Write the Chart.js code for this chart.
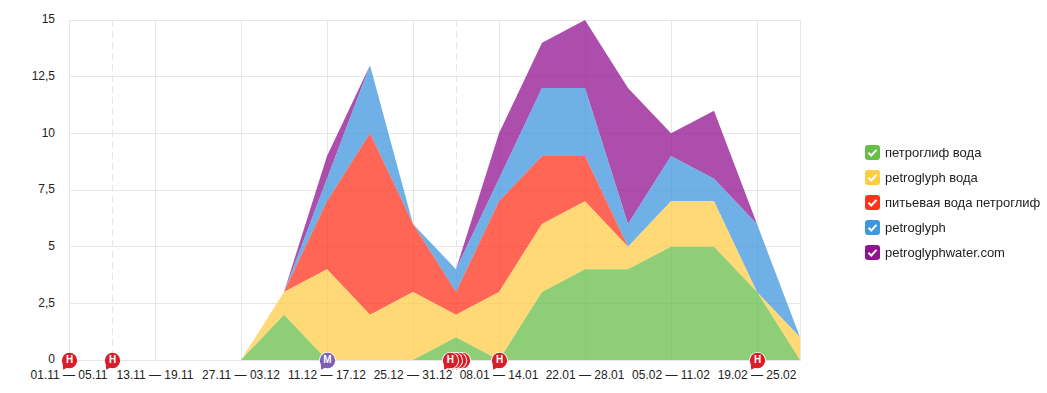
<!DOCTYPE html>
<html>
<head>
<meta charset="utf-8">
<script src="https://cdn.jsdelivr.net/npm/chart.js@4"></script>
<style>
  html, body { margin: 0; padding: 0; background: #fff; overflow: hidden; }
  #wrap { position: relative; width: 1047px; height: 393px; font-family: "Liberation Sans", Arial, sans-serif; }
  #legend { position: absolute; left: 865px; top: 140px; }
  .item { height: 25px; display: flex; align-items: center; font-size: 13px; color: #222; white-space: nowrap; }
  .box { width: 15px; height: 15px; border-radius: 3px; margin-right: 5px; display: block; }
</style>
</head>
<body>
<div id="wrap">
  <canvas id="chart" width="1047" height="393"></canvas>
  <div id="legend"></div>
</div>
<script>
// weeks on the x axis
const weeks = [
  "01.11 — 05.11", "06.11 — 12.11", "13.11 — 19.11", "20.11 — 26.11", "27.11 — 03.12", "04.12 — 10.12",
  "11.12 — 17.12", "18.12 — 24.12", "25.12 — 31.12", "01.01 — 07.01", "08.01 — 14.01", "15.01 — 21.01",
  "22.01 — 28.01", "29.01 — 04.02", "05.02 — 11.02", "12.02 — 18.02", "19.02 — 25.02", "26.02 — 28.02"
];

// series
const seriesNames = ["петроглиф вода", "petroglyph вода", "питьевая вода петроглиф", "petroglyph", "petroglyphwater.com"];
const petroglifVoda =   [0, 0, 0, 0, 0, 2, 0, 0, 0, 1, 0, 3, 4, 4, 5, 5, 3, 0];
const petroglyphVoda =  [0, 0, 0, 0, 0, 1, 4, 2, 3, 1, 3, 3, 3, 1, 2, 2, 0, 1];
const pitevayaVoda =    [0, 0, 0, 0, 0, 0, 3, 8, 3, 1, 4, 3, 2, 0, 0, 0, 0, 0];
const petroglyph =      [0, 0, 0, 0, 0, 0, 1, 3, 0, 1, 1, 3, 3, 1, 2, 1, 3, 0];
const petroglyphWater = [0, 0, 0, 0, 0, 0, 1, 0, 0, 0, 2, 2, 3, 6, 1, 3, 0, 0];
const seriesValues = [petroglifVoda, petroglyphVoda, pitevayaVoda, petroglyph, petroglyphWater];

// legend colours and area colours
const solidColors = ["#67be48", "#ffcc48", "#ff331c", "#3f97de", "#921392"];
const areaColors = solidColors.map(c => c + "bf");

// weeks whose grid line is dashed
const dashedWeeks = [1, 9];

// event bubbles, position is in week units
const eventWeeks =   [0, 1, 6, 9.14, 9.05, 8.95, 8.86, 10, 16];
const eventLetters = ["Н", "Н", "М", "Н", "Н", "Н", "Н", "Н", "Н"];

const gridColor = "#e6e6e6";
const textColor = "#222";
const fontFamily = '"Liberation Sans", Arial, sans-serif';

// draws the small speech bubbles on the zero line
const eventBubbles = {
  id: "eventBubbles",
  afterDraw(chart) {
    const ctx = chart.ctx;
    const x0 = chart.scales.y.getPixelForValue(0);
    eventWeeks.forEach((week, i) => {
      const x = chart.scales.x.getPixelForValue(week) + 0.5;
      const y = x0 + 0.5;
      const fill = eventLetters[i] === "М" ? "#7d5db5" : "#d71f2b";
      ctx.save();
      ctx.beginPath();
      ctx.arc(x, y, 8.6, 0, Math.PI * 2);
      ctx.fillStyle = "#fff";
      ctx.fill();
      ctx.fillStyle = fill;
      ctx.beginPath();
      ctx.arc(x, y, 7.7, 0, Math.PI * 2);
      ctx.fill();
      ctx.beginPath();
      ctx.moveTo(x - 6.8, y + 3);
      ctx.lineTo(x - 6.3, y + 9.3);
      ctx.lineTo(x - 2, y + 7);
      ctx.closePath();
      ctx.fill();
      ctx.fillStyle = "#fff";
      ctx.font = "bold 10px " + fontFamily;
      ctx.textAlign = "center";
      ctx.textBaseline = "middle";
      ctx.fillText(eventLetters[i], x, y);
      ctx.restore();
    });
  }
};

const canvas = document.getElementById("chart");
canvas.getContext("2d", { alpha: false });

new Chart(canvas, {
  type: "line",
  data: {
    labels: weeks,
    datasets: seriesNames.map((name, i) => ({
      label: name,
      data: seriesValues[i],
      backgroundColor: areaColors[i],
      borderWidth: 0,
      pointRadius: 0,
      tension: 0,
      fill: i === 0 ? "origin" : "-1"
    }))
  },
  options: {
    responsive: false,
    animation: false,
    layout: { padding: { top: 20, right: 247, left: 0, bottom: 0 } },
    plugins: {
      legend: { display: false },
      tooltip: { enabled: false }
    },
    scales: {
      x: {
        grid: {
          drawTicks: false,
          color: c => (c.index % 2 === 0 || dashedWeeks.includes(c.index) || c.index === weeks.length - 1) ? gridColor : "transparent"
        },
        border: {
          color: gridColor,
          dash: c => dashedWeeks.includes(c.index) ? [7, 4] : []
        },
        ticks: {
          autoSkip: false,
          maxRotation: 0,
          padding: 8,
          color: textColor,
          font: { family: fontFamily, size: 12 },
          // every second week gets a label
          callback(value, index) { return index % 2 === 0 && index < weeks.length - 1 ? weeks[index] : ""; }
        },
        afterFit(scale) { scale.height = 33; }
      },
      y: {
        stacked: true,
        min: 0,
        max: 15,
        grid: { drawTicks: false, color: gridColor },
        border: { color: gridColor },
        ticks: {
          stepSize: 2.5,
          padding: 14,
          color: textColor,
          font: { family: fontFamily, size: 12 },
          callback: v => String(v).replace(".", ",")
        },
        afterFit(scale) { scale.width = 69; scale.paddingTop = 0; }
      }
    }
  },
  plugins: [
    { id: "whiteBack", beforeDraw(chart) { chart.ctx.fillStyle = "#fff"; chart.ctx.fillRect(0, 0, chart.width, chart.height); } },
    eventBubbles
  ]
});

// html legend with the check boxes
const legend = document.getElementById("legend");
seriesNames.forEach((name, i) => {
  const row = document.createElement("div");
  row.className = "item";
  row.innerHTML = '<svg class="box" viewBox="0 0 15 15" style="background:' + solidColors[i] + '">' +
    '<path d="M3.5 7.8 L6.3 10.5 L11.5 4.8" fill="none" stroke="#fff" stroke-width="2"/></svg>';
  row.appendChild(document.createTextNode(name));
  legend.appendChild(row);
});
</script>
</body>
</html>
